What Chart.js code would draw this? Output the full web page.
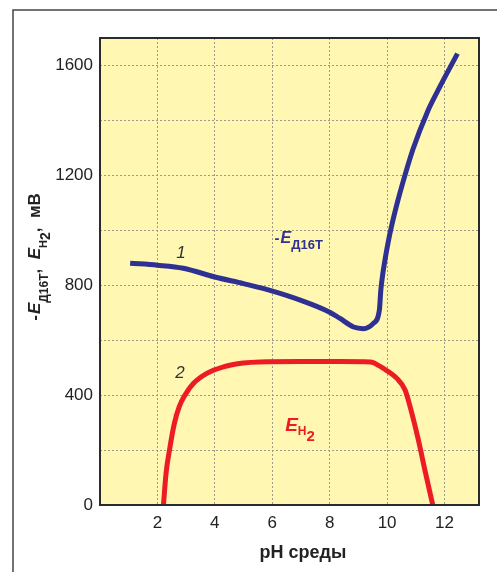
<!DOCTYPE html>
<html>
<head>
<meta charset="utf-8">
<script src="https://cdn.jsdelivr.net/npm/chart.js@4.4.1/dist/chart.umd.min.js"></script>
<style>
  body { margin: 0; background: #fff; }
  canvas { display: block; }
</style>
</head>
<body>
<canvas id="chartCanvas" width="497" height="572"></canvas>
<script>
// kurve 1: -E Д16Т (mV) mod pH
var phCurve1 = [1.05, 2.0, 2.9, 4.0, 5.0, 5.8, 7.0, 8.0, 8.36, 8.83, 9.17, 9.52, 9.73, 9.78, 9.85, 10.05, 10.28, 10.51, 10.9, 11.4, 11.75, 12.45]
var eCurve1  = [880, 873, 862, 830, 806, 785, 745, 702, 679, 648, 642, 661, 709, 782, 842, 964, 1070, 1160, 1295, 1430, 1505, 1643]

// kurve 2: E H2 (mV) mod pH
var phCurve2 = [2.21, 2.30, 2.42, 2.59, 2.76, 2.96, 3.25, 3.72, 4.30, 4.99, 5.57, 7.0, 8.36, 9.41, 9.87, 10.34, 10.63, 10.80, 11.09, 11.32, 11.59]
var eCurve2  = [0, 115, 200, 297, 358, 400, 442, 479, 503, 517, 521, 522, 522, 521, 497, 461, 418, 358, 236, 125, 0]

// akser
var xTicks = [2, 4, 6, 8, 10, 12]
var yTickLabels = [0, 400, 800, 1200, 1600]
var xTitle = 'pH среды'

var blue = '#2e3192'
var red = '#ed1c24'
var tickFont = '"Liberation Sans Narrow", "Arial Narrow", "Liberation Sans", Arial, sans-serif'
var boldFont = '"Liberation Sans", Arial, sans-serif'

function toPoints(xs, ys) {
    return xs.map((x, i) => ({ x: x, y: ys[i] }))
}

// tegner tekst med sænkede indekser, stykke for stykke
function drawRuns(ctx, x, y, runs) {
    runs.forEach(r => {
        ctx.font = r.font
        ctx.fillStyle = r.color
        ctx.fillText(r.t, x, y + (r.dy || 0))
        x += ctx.measureText(r.t).width + (r.gap || 0)
    })
}
function runsWidth(ctx, runs) {
    var w = 0
    runs.forEach(r => { ctx.font = r.font; w += ctx.measureText(r.t).width + (r.gap || 0) })
    return w
}

var decor = {
    id: 'decor',
    beforeDraw(chart) {
        var ctx = chart.ctx, a = chart.chartArea
        ctx.save()
        ctx.fillStyle = '#fff'
        ctx.fillRect(0, 0, chart.width, chart.height)
        ctx.fillStyle = '#fff7b2'
        ctx.fillRect(a.left, a.top, a.right - a.left, a.bottom - a.top)
        // ydre ramme
        ctx.strokeStyle = '#444'
        ctx.lineWidth = 1.5
        ctx.strokeRect(13, 10, 600, 700)
        ctx.restore()
    },
    afterDraw(chart) {
        var ctx = chart.ctx, a = chart.chartArea
        var xs = chart.scales.x, ys = chart.scales.y
        ctx.save()
        ctx.strokeStyle = '#2b2b2b'
        ctx.lineWidth = 2
        ctx.strokeRect(a.left, a.top, a.right - a.left, a.bottom - a.top)

        ctx.textBaseline = 'alphabetic'
        ctx.textAlign = 'left'

        // kurvenumre
        ctx.font = 'italic 17px ' + boldFont
        ctx.fillStyle = '#333'
        ctx.fillText('1', xs.getPixelForValue(2.66), ys.getPixelForValue(898))
        ctx.fillText('2', xs.getPixelForValue(2.62), ys.getPixelForValue(463))

        // -E Д16Т
        drawRuns(ctx, xs.getPixelForValue(6.08), ys.getPixelForValue(953), [
            { t: '-', font: 'bold 15px ' + boldFont, color: blue, gap: 1 },
            { t: 'E', font: 'bold italic 16px ' + boldFont, color: blue },
            { t: 'Д16Т', font: 'bold 13px ' + boldFont, color: blue, dy: 6 }
        ])
        // E H2
        drawRuns(ctx, xs.getPixelForValue(6.45), ys.getPixelForValue(270), [
            { t: 'E', font: 'bold italic 19px ' + boldFont, color: red },
            { t: 'H', font: 'bold 12px ' + boldFont, color: red, dy: 4 },
            { t: '2', font: 'bold 15px ' + boldFont, color: red, dy: 10 }
        ])

        // x-aksens titel
        ctx.font = 'bold 18px ' + boldFont
        ctx.fillStyle = '#222'
        ctx.textAlign = 'center'
        ctx.fillText(xTitle, 303, 558)

        // y-aksens titel (drejet)
        var runs = [
            { t: '-', font: 'bold 17px ' + boldFont, color: '#222', gap: 1 },
            { t: 'E', font: 'bold italic 17px ' + boldFont, color: '#222' },
            { t: 'Д16Т', font: 'bold 12px ' + boldFont, color: '#222', dy: 8 },
            { t: ',  ', font: 'bold 17px ' + boldFont, color: '#222' },
            { t: 'E', font: 'bold italic 17px ' + boldFont, color: '#222' },
            { t: 'H', font: 'bold 11px ' + boldFont, color: '#222', dy: 7 },
            { t: '2', font: 'bold 14px ' + boldFont, color: '#222', dy: 10 },
            { t: ',  мВ', font: 'bold 17px ' + boldFont, color: '#222' }
        ]
        ctx.textAlign = 'left'
        var w = runsWidth(ctx, runs)
        ctx.translate(40, 257)
        ctx.rotate(-Math.PI / 2)
        drawRuns(ctx, -w / 2, 0, runs)
        ctx.restore()
    }
}

const canvasChart = document.getElementById('chartCanvas')
var myChart = new Chart(canvasChart, {
    type: 'scatter',
    data: {
        datasets: [
            {
                label: '-E Д16Т',
                data: toPoints(phCurve1, eCurve1),
                showLine: true,
                borderColor: blue,
                borderWidth: 5,
                pointRadius: 0,
                cubicInterpolationMode: 'monotone'
            },
            {
                label: 'E H2',
                data: toPoints(phCurve2, eCurve2),
                showLine: true,
                borderColor: red,
                borderWidth: 5,
                pointRadius: 0,
                cubicInterpolationMode: 'monotone'
            }
        ]
    },
    options: {
        responsive: false,
        animation: false,
        layout: { padding: { top: 38, right: 18, left: 0, bottom: 0 } },
        plugins: { legend: { display: false }, tooltip: { enabled: false } },
        scales: {
            x: {
                type: 'linear',
                min: 0,
                max: 13.2,
                afterFit: s => { s.height = 67 },
                afterBuildTicks: s => { s.ticks = xTicks.map(v => ({ value: v })) },
                ticks: {
                    padding: 8,
                    color: '#222',
                    font: { family: tickFont, size: 17 }
                },
                grid: { color: '#9c9a8a', lineWidth: 1, drawTicks: false },
                border: { display: false, dash: [2, 2] }
            },
            y: {
                type: 'linear',
                min: 0,
                max: 1700,
                afterFit: s => { s.width = 100 },
                ticks: {
                    stepSize: 200,
                    padding: 7,
                    color: '#222',
                    font: { family: tickFont, size: 17 },
                    callback: v => yTickLabels.includes(v) ? String(v) : ''
                },
                grid: { color: '#9c9a8a', lineWidth: 1, drawTicks: false },
                border: { display: false, dash: [2, 2] }
            }
        }
    },
    plugins: [decor]
})
</script>
</body>
</html>
